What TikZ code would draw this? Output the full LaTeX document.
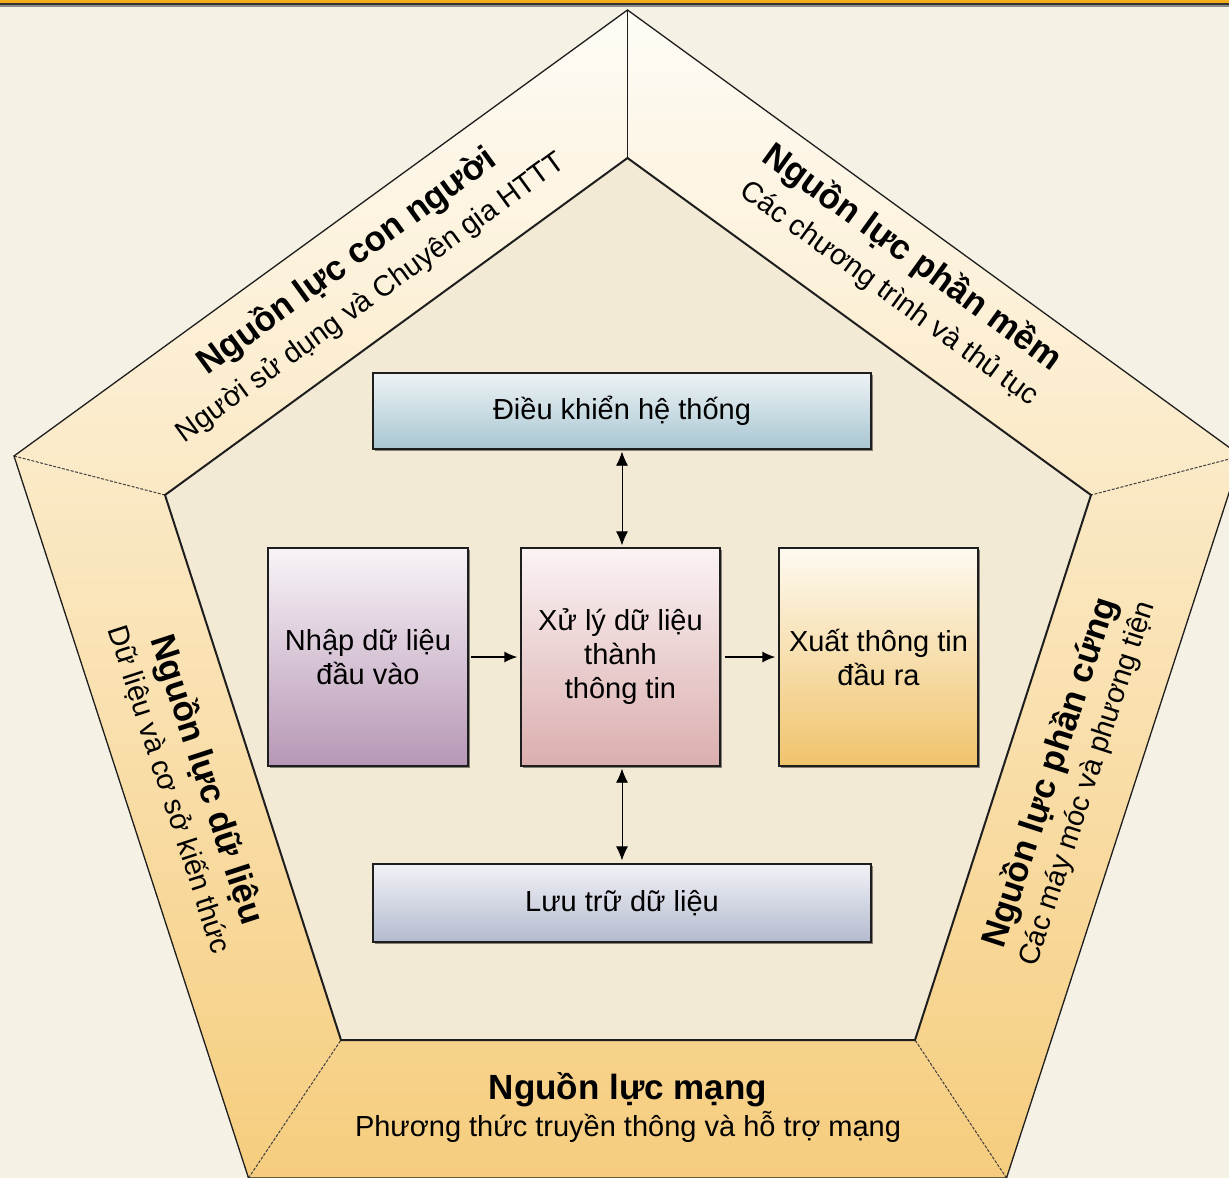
\documentclass[tikz,border=0pt]{standalone}
\usepackage{fontspec}
\setmainfont{Liberation Sans}
\usetikzlibrary{arrows.meta,shadows}
\definecolor{bgout}{HTML}{F5F2E5}
\definecolor{bgin}{HTML}{F2EAD5}
\definecolor{ringtop}{HTML}{FEFCF6}
\definecolor{ringmid}{HTML}{FBE6C2}
\definecolor{ringbot}{HTML}{F6CD7E}
\definecolor{barorange}{HTML}{F2AC1C}
\definecolor{edgedark}{HTML}{1E1E1E}
\definecolor{ctrlT}{HTML}{EEF3F5}
\definecolor{ctrlB}{HTML}{A8C6D2}
\definecolor{inpT}{HTML}{F8F4F8}
\definecolor{inpB}{HTML}{B797B5}
\definecolor{procT}{HTML}{FBF3F4}
\definecolor{procB}{HTML}{DBAEAE}
\definecolor{outT}{HTML}{FEFAF1}
\definecolor{outB}{HTML}{F0C36B}
\definecolor{storT}{HTML}{F1F2F6}
\definecolor{storB}{HTML}{B4BBCF}
\begin{document}
\begin{tikzpicture}[x=1pt,y=-1pt,
  box/.style={draw=edgedark, line width=1.3pt, inner sep=4pt, align=center,
    font=\fontsize{29}{34}\selectfont,
    drop shadow={shadow xshift=1.5pt, shadow yshift=-1.5pt, opacity=0.45, fill=black}},
  ttl/.style={font=\fontsize{35}{38}\selectfont\bfseries, inner sep=0pt},
  sub/.style={font=\fontsize{29}{32}\selectfont, inner sep=0pt},
  arr/.style={line width=1.4pt, -{Latex[length=13pt,width=11pt]}},
  darr/.style={line width=0.8pt, {Latex[length=14pt,width=12pt]}-{Latex[length=14pt,width=12pt]}},
  divsolid/.style={draw=edgedark, line width=1.2pt},
  divdash/.style={draw=edgedark!85, line width=1pt, dash pattern=on 3pt off 1.5pt}]
\useasboundingbox (0,0) rectangle (1229,1178);
\begin{scope}
\clip (0,0) rectangle (1229,1178);
\fill[bgout] (0,0) rectangle (1229,1178);
% top bar
\fill[barorange] (0,0) rectangle (1229,3.2);
\fill[black!80] (0,3.2) rectangle (1229,4.6);
\fill[black!45] (0,4.6) rectangle (1229,7);
% vertices
\coordinate (O1) at (627.5,10);
\coordinate (O2) at (1241,456);
\coordinate (O3) at (1006.5,1178);
\coordinate (O4) at (248.5,1178);
\coordinate (O5) at (14,456);
\coordinate (I1) at (627.5,158);
\coordinate (I2) at (1091,495);
\coordinate (I3) at (915,1040);
\coordinate (I4) at (341,1040);
\coordinate (I5) at (165,495);
% inner area
\fill[bgin] (I1) -- (I2) -- (I3) -- (I4) -- (I5) -- cycle;
% ring
\shade[even odd rule, top color=ringtop, middle color=ringmid, bottom color=ringbot]
  (O1) -- (O2) -- (O3) -- (O4) -- (O5) -- cycle
  (I1) -- (I2) -- (I3) -- (I4) -- (I5) -- cycle;
% dividers
\draw[divsolid] (O1) -- (I1);
\draw[divdash] (O2) -- (I2);
\draw[divdash] (O3) -- (I3);
\draw[divdash] (O4) -- (I4);
\draw[divdash] (O5) -- (I5);
% outlines
\draw[edgedark, line width=1.3pt, line join=miter] (O1) -- (O2) -- (O3) -- (O4) -- (O5) -- cycle;
\draw[edgedark, line width=2pt, line join=miter] (I1) -- (I2) -- (I3) -- (I4) -- (I5) -- cycle;
\end{scope}
% ring labels
\node[ttl, rotate=36] (tlT) at (347,262) {Nguồn lực con người};
\node[sub, rotate=36] (tlS) at (371,298) {Người sử dụng và Chuyên gia HTTT};
\node[ttl, rotate=-36] (trT) at (912,258) {Nguồn lực phần mềm};
\node[sub, rotate=-36] (trS) at (889,294) {Các chương trình và thủ tục};
\node[ttl, rotate=72] (rT) at (1051,773) {Nguồn lực phần cứng};
\node[sub, rotate=72] (rS) at (1088,784) {Các máy móc và phương tiện};
\node[ttl, rotate=-72] (lT) at (206,780) {Nguồn lực dữ liệu};
\node[sub, rotate=-72] (lS) at (169,790) {Dữ liệu và cơ sở kiến thức};
\node[ttl] (bT) at (628,1090) {Nguồn lực mạng};
\node[sub] (bS) at (628,1127) {Phương thức truyền thông và hỗ trợ mạng};
% boxes
\node[box, minimum width=498pt, minimum height=76pt, top color=ctrlT, bottom color=ctrlB] (ctrl) at (622,411) {Điều khiển hệ thống};
\node[box, minimum width=200pt, minimum height=218pt, top color=inpT, bottom color=inpB] (inp) at (368,657) {Nhập dữ liệu\\đầu vào};
\node[box, minimum width=199pt, minimum height=218pt, top color=procT, bottom color=procB] (proc) at (620.5,657) {Xử lý dữ liệu\\thành\\thông tin};
\node[box, minimum width=199pt, minimum height=218pt, top color=outT, bottom color=outB] (outp) at (878.5,657) {Xuất thông tin\\đầu ra};
\node[box, minimum width=498pt, minimum height=78pt, top color=storT, bottom color=storB] (stor) at (622,903) {Lưu trữ dữ liệu};
% connectors
\draw[arr, shorten <=2pt, shorten >=3pt] (inp.east) -- (proc.west);
\draw[arr, shorten <=4pt, shorten >=3pt] (proc.east) -- (outp.west);
\draw[darr, shorten <=2pt, shorten >=2pt] (ctrl.south) -- (ctrl.south |- proc.north);
\draw[darr, shorten <=2pt, shorten >=3pt] (ctrl.south |- proc.south) -- (stor.north);
\end{tikzpicture}
\end{document}
